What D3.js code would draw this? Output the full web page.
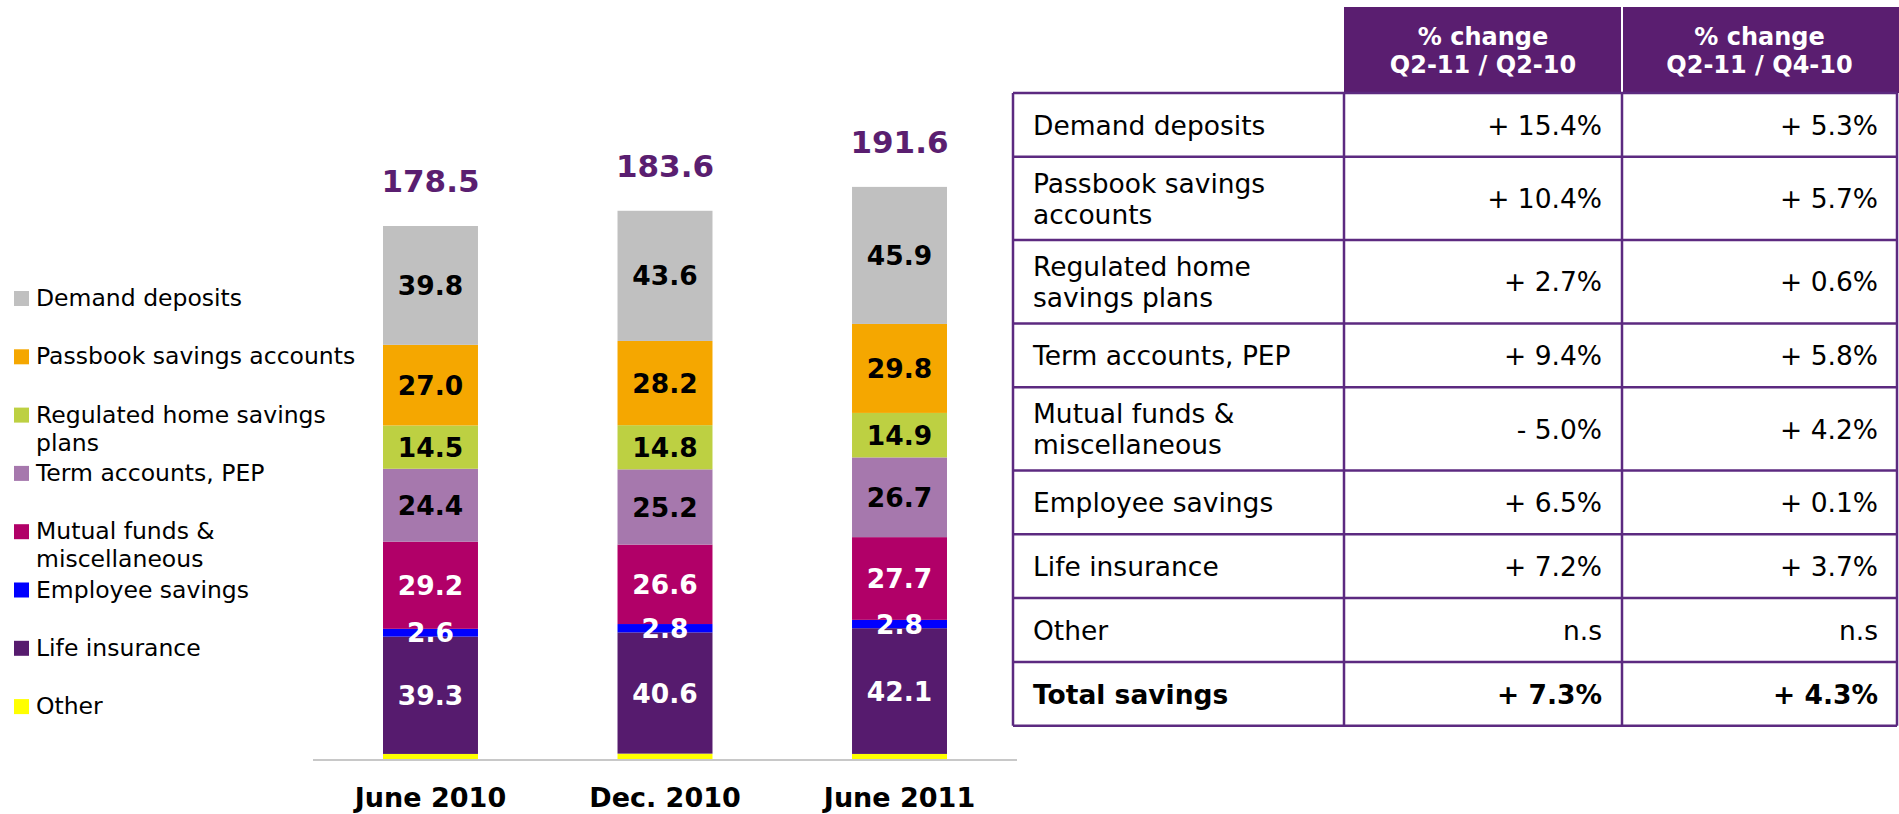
<!DOCTYPE html>
<html>
<head>
<meta charset="utf-8">
<script src="https://cdn.jsdelivr.net/npm/d3@7/dist/d3.min.js"></script>
<style>
  html, body { margin: 0; padding: 0; background: #fff; }
  svg { display: block; }
  text { font-family: "DejaVu Sans", Verdana, sans-serif; }
</style>
</head>
<body>
<svg id="chart" width="1899" height="814"></svg>
<script>
// ---- Data (EUR bn) ----
const categories = ["June 2010", "Dec. 2010", "June 2011"];
const totals = [178.5, 183.6, 191.6];

// stacked from the bottom up
const seriesKeys = ["other", "life", "employee", "mutual", "term", "regulated", "passbook", "demand"];
const other     = [1.7, 1.8, 1.7];
const life      = [39.3, 40.6, 42.1];
const employee  = [2.6, 2.8, 2.8];
const mutual    = [29.2, 26.6, 27.7];
const term      = [24.4, 25.2, 26.7];
const regulated = [14.5, 14.8, 14.9];
const passbook  = [27.0, 28.2, 29.8];
const demand    = [39.8, 43.6, 45.9];

// legend, top to bottom (wrapped lines)
const legendKeys = ["demand", "passbook", "regulated", "term", "mutual", "employee", "life", "other"];
const legendLabels = [
  ["Demand deposits"],
  ["Passbook savings accounts"],
  ["Regulated home savings", "plans"],
  ["Term accounts, PEP"],
  ["Mutual funds &", "miscellaneous"],
  ["Employee savings"],
  ["Life insurance"],
  ["Other"]
];

// change table
const tableHeaders = [["% change", "Q2-11 / Q2-10"], ["% change", "Q2-11 / Q4-10"]];
const tableRowLabels = [
  ["Demand deposits"],
  ["Passbook savings", "accounts"],
  ["Regulated home", "savings plans"],
  ["Term accounts, PEP"],
  ["Mutual funds &", "miscellaneous"],
  ["Employee savings"],
  ["Life insurance"],
  ["Other"],
  ["Total savings"]
];
const changeVsQ2_10 = ["+ 15.4%", "+ 10.4%", "+ 2.7%", "+ 9.4%", "- 5.0%", "+ 6.5%", "+ 7.2%", "n.s", "+ 7.3%"];
const changeVsQ4_10 = ["+ 5.3%", "+ 5.7%", "+ 0.6%", "+ 5.8%", "+ 4.2%", "+ 0.1%", "+ 3.7%", "n.s", "+ 4.3%"];

// ---- Styling ----
const colors = {
  demand: "#c0c0c0", passbook: "#f5a700", regulated: "#bdd042", term: "#a678ad",
  mutual: "#b10068", employee: "#0000ff", life: "#561b6e", other: "#ffff00"
};
const labelInk = {
  demand: "#000", passbook: "#000", regulated: "#000", term: "#000",
  mutual: "#fff", employee: "#fff", life: "#fff", other: "#000"
};
const purple = "#5a1e70";
const tableLine = "#5c2a80";

const seriesData = { other, life, employee, mutual, term, regulated, passbook, demand };
const rows = categories.map((c, i) => {
  const r = { category: c, total: totals[i] };
  seriesKeys.forEach(k => r[k] = seriesData[k][i]);
  return r;
});

const svg = d3.select("#chart");

// ---- Scales ----
const x = d3.scaleBand()
  .domain(categories)
  .range([313, 1017])
  .paddingInner(0.595)
  .paddingOuter(0.2985);

const y = d3.scaleLinear()
  .domain([0, 200])
  .range([759, 759 - 2.986 * 200]);

const stack = d3.stack().keys(seriesKeys);
const stacked = stack(rows);

// ---- Bars ----
const layers = svg.append("g").attr("class", "bars")
  .selectAll("g")
  .data(stacked)
  .join("g")
  .attr("fill", d => colors[d.key]);

layers.selectAll("rect")
  .data(d => d)
  .join("rect")
  .attr("x", d => x(d.data.category))
  .attr("width", x.bandwidth())
  .attr("y", d => y(d[1]))
  .attr("height", d => y(d[0]) - y(d[1]));

// segment value labels (Other is too thin to carry one)
const labelled = stacked.filter(s => s.key !== "other");
svg.append("g").attr("class", "seg-labels")
  .selectAll("g")
  .data(labelled)
  .join("g")
  .attr("fill", d => labelInk[d.key])
  .selectAll("text")
  .data(d => d)
  .join("text")
  .attr("x", d => x(d.data.category) + x.bandwidth() / 2)
  .attr("y", d => (y(d[0]) + y(d[1])) / 2 + 9.6)
  .attr("text-anchor", "middle")
  .attr("font-weight", "bold")
  .attr("font-size", 26.5)
  .text(d => d3.format(".1f")(d[1] - d[0]));

// totals above each bar
svg.append("g").attr("class", "totals")
  .selectAll("text")
  .data(rows)
  .join("text")
  .attr("x", d => x(d.category) + x.bandwidth() / 2)
  .attr("y", d => y(d.total) - 34)
  .attr("text-anchor", "middle")
  .attr("font-weight", "bold")
  .attr("font-size", 31)
  .attr("fill", purple)
  .text(d => d3.format(".1f")(d.total));

// ---- Category axis ----
const xAxis = d3.axisBottom(x).tickSize(0).tickPadding(0);
const axisG = svg.append("g")
  .attr("transform", `translate(0, ${y(0)})`)
  .call(xAxis);
axisG.select(".domain")
  .attr("stroke", "#c8c8c8")
  .attr("stroke-width", 2)
  .attr("d", `M${x.range()[0]},1H${x.range()[1]}`);
axisG.selectAll(".tick text")
  .attr("y", 48)
  .attr("dy", 0)
  .attr("fill", "#000")
  .attr("font-family", "DejaVu Sans, Verdana, sans-serif")
  .attr("font-weight", "bold")
  .attr("font-size", 27);

// ---- Legend ----
const legend = svg.append("g").attr("class", "legend")
  .selectAll("g")
  .data(legendKeys)
  .join("g")
  .attr("transform", (d, i) => `translate(14, ${306 + i * 58.3})`);

legend.append("rect")
  .attr("x", 0).attr("y", -15)
  .attr("width", 15).attr("height", 15)
  .attr("fill", d => colors[d]);

legend.append("text")
  .attr("x", 22)
  .attr("font-size", 23.5)
  .attr("fill", "#000")
  .selectAll("tspan")
  .data((d, i) => legendLabels[i])
  .join("tspan")
  .attr("x", 22)
  .attr("y", (d, i) => i * 28)
  .text(d => d);

// ---- Change table ----
const colX = [1013, 1344, 1622, 1897];
const headTop = 7, bodyTop = 93;
const lineH = 31.3;
const rowHeight = lines => lines.length > 1 ? 83.3 : 63.8;
const rowTops = [];
tableRowLabels.reduce((acc, lines) => { rowTops.push(acc); return acc + rowHeight(lines); }, bodyTop);
const tableBottom = rowTops[rowTops.length - 1] + rowHeight(tableRowLabels[tableRowLabels.length - 1]);

const table = svg.append("g").attr("class", "table");

// header band
table.append("rect")
  .attr("x", colX[1]).attr("y", headTop)
  .attr("width", 1899 - colX[1]).attr("height", bodyTop - headTop)
  .attr("fill", purple);
table.append("line")
  .attr("x1", colX[2]).attr("x2", colX[2])
  .attr("y1", headTop).attr("y2", bodyTop)
  .attr("stroke", "#fff").attr("stroke-width", 2);

table.selectAll("text.head")
  .data(tableHeaders)
  .join("text")
  .attr("class", "head")
  .attr("text-anchor", "middle")
  .attr("font-weight", "bold")
  .attr("font-size", 24)
  .attr("fill", "#fff")
  .selectAll("tspan")
  .data((d, i) => d.map(t => ({ t, cx: (colX[i + 1] + colX[i + 2]) / 2 })))
  .join("tspan")
  .attr("x", d => d.cx)
  .attr("y", (d, i) => 45 + i * 28.3)
  .text(d => d.t);

// grid lines
table.selectAll("line.h")
  .data(rowTops.concat([tableBottom]))
  .join("line")
  .attr("class", "h")
  .attr("x1", colX[0]).attr("x2", colX[3])
  .attr("y1", d => d).attr("y2", d => d)
  .attr("stroke", tableLine).attr("stroke-width", 2.5);
table.selectAll("line.v")
  .data(colX)
  .join("line")
  .attr("class", "v")
  .attr("x1", d => d).attr("x2", d => d)
  .attr("y1", bodyTop).attr("y2", tableBottom)
  .attr("stroke", tableLine).attr("stroke-width", 2.5);

// cell text
const capHalf = 9.7;
const bodyRows = table.selectAll("g.row")
  .data(tableRowLabels.map((lines, i) => ({
    lines, top: rowTops[i], h: rowHeight(lines),
    a: changeVsQ2_10[i], b: changeVsQ4_10[i],
    bold: i === tableRowLabels.length - 1
  })))
  .join("g")
  .attr("class", "row")
  .attr("font-size", 26.5)
  .attr("font-weight", d => d.bold ? "bold" : "normal")
  .attr("fill", "#000");

bodyRows.append("text")
  .selectAll("tspan")
  .data(d => d.lines.map((t, j) => ({ t, y: d.top + d.h / 2 + capHalf + (j - (d.lines.length - 1) / 2) * lineH })))
  .join("tspan")
  .attr("x", colX[0] + 20)
  .attr("y", d => d.y)
  .text(d => d.t);

bodyRows.append("text")
  .attr("text-anchor", "end")
  .attr("x", colX[2] - 20)
  .attr("y", d => d.top + d.h / 2 + capHalf)
  .text(d => d.a);

bodyRows.append("text")
  .attr("text-anchor", "end")
  .attr("x", colX[3] - 19)
  .attr("y", d => d.top + d.h / 2 + capHalf)
  .text(d => d.b);
</script>
</body>
</html>
